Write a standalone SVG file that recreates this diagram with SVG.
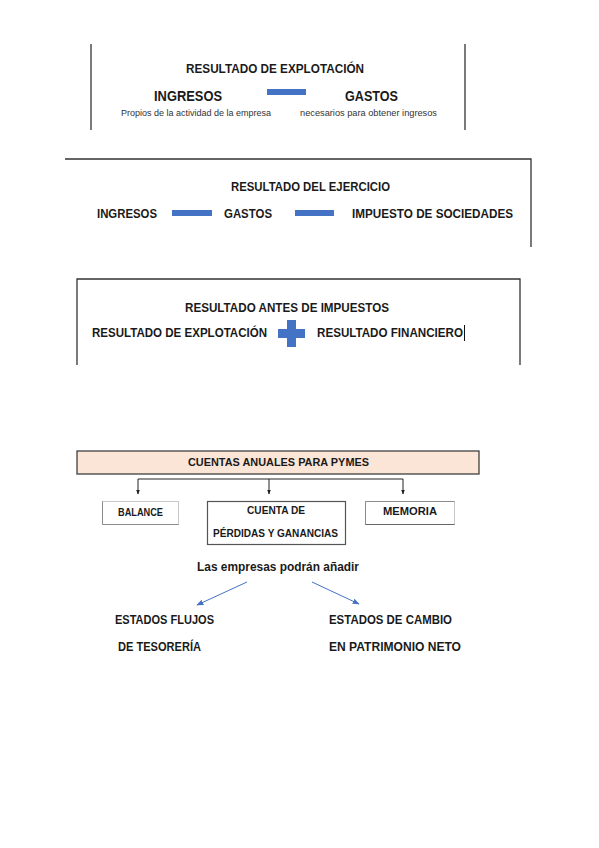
<svg xmlns="http://www.w3.org/2000/svg" width="599" height="848" viewBox="0 0 599 848">
<style>
text{font-family:"Liberation Sans",Arial,sans-serif;fill:#1a1a1a;font-weight:bold}
.t13{font-size:13px}
.t12{font-size:12.5px}
.t11{font-size:11px}
.t16{font-size:15px}
.small{font-size:9px;font-weight:normal;fill:#333}
.frame{stroke:#333;stroke-width:1.3;fill:none}
.bar{fill:#4472C4}
.conn{stroke:#222;stroke-width:1;fill:none}
.blue{stroke:#4472C4;stroke-width:1;fill:none}
</style>
<defs>
<marker id="ah" viewBox="0 0 10 10" refX="9" refY="5" markerWidth="5" markerHeight="5" orient="auto">
<path d="M0,1 L10,5 L0,9 z" fill="#222"/>
</marker>
<marker id="ahb" viewBox="0 0 10 10" refX="9" refY="5" markerWidth="7" markerHeight="7" orient="auto">
<path d="M0,1 L10,5 L0,9 z" fill="#4472C4"/>
</marker>
</defs>
<rect width="599" height="848" fill="#fff"/>

<g id="resultado-explotacion">
<line class="frame" x1="91" y1="44" x2="91" y2="130"/>
<line class="frame" x1="465" y1="44" x2="465" y2="130"/>
<text class="t13" x="186" y="73" textLength="178" lengthAdjust="spacingAndGlyphs">RESULTADO DE EXPLOTACIÓN</text>
<text class="t16" x="154" y="101" textLength="68" lengthAdjust="spacingAndGlyphs">INGRESOS</text>
<rect class="bar" x="267" y="89" width="39" height="6"/>
<text class="t16" x="345" y="101" textLength="53" lengthAdjust="spacingAndGlyphs">GASTOS</text>
<text class="small" x="121" y="116" textLength="150" lengthAdjust="spacingAndGlyphs">Propios de la actividad de la empresa</text>
<text class="small" x="300" y="116" textLength="137" lengthAdjust="spacingAndGlyphs">necesarios para obtener ingresos</text>
</g>

<g id="resultado-ejercicio">
<polyline class="frame" points="65,159 531,159 531,247"/>
<text class="t13" x="231" y="191" textLength="159" lengthAdjust="spacingAndGlyphs">RESULTADO DEL EJERCICIO</text>
<text class="t12" x="97" y="218" textLength="60" lengthAdjust="spacingAndGlyphs">INGRESOS</text>
<rect class="bar" x="172" y="210" width="40" height="6"/>
<text class="t12" x="224" y="218" textLength="48" lengthAdjust="spacingAndGlyphs">GASTOS</text>
<rect class="bar" x="295" y="210" width="39" height="6"/>
<text class="t12" x="352" y="218" textLength="161" lengthAdjust="spacingAndGlyphs">IMPUESTO DE SOCIEDADES</text>
</g>

<g id="resultado-antes-impuestos">
<polyline class="frame" points="77,365 77,279 520,279 520,365"/>
<text class="t13" x="185" y="312" textLength="204" lengthAdjust="spacingAndGlyphs">RESULTADO ANTES DE IMPUESTOS</text>
<text class="t12" x="92" y="337" textLength="175" lengthAdjust="spacingAndGlyphs">RESULTADO DE EXPLOTACIÓN</text>
<path class="bar" d="M287,320 h9 v9 h9 v9 h-9 v9 h-9 v-9 h-9 v-9 h9 z"/>
<text class="t12" x="317" y="337" textLength="146" lengthAdjust="spacingAndGlyphs">RESULTADO FINANCIERO</text>
<line x1="464.5" y1="325" x2="464.5" y2="341" stroke="#111" stroke-width="1"/>
</g>

<g id="cuentas-anuales">
<rect x="77" y="451" width="402" height="23" fill="#FBE5D6" stroke="#404040" stroke-width="1.3"/>
<text class="t11" x="188" y="466" textLength="181" lengthAdjust="spacingAndGlyphs">CUENTAS ANUALES PARA PYMES</text>
</g>

<g id="connectors">
<path class="conn" d="M138,479 H403 V494" marker-end="url(#ah)"/>
<path class="conn" d="M138,479 V494" marker-end="url(#ah)"/>
<path class="conn" d="M269,479 V494" marker-end="url(#ah)"/>
<line class="blue" x1="247" y1="582" x2="197" y2="605" marker-end="url(#ahb)"/>
<line class="blue" x1="312" y1="582" x2="359" y2="604" marker-end="url(#ahb)"/>
</g>

<g id="balance">
<rect x="102.5" y="501.5" width="76" height="23" fill="#fff" stroke="#c8c8c8" stroke-width="1"/>
<polyline points="102.5,501.5 102.5,524.5 178.5,524.5" fill="none" stroke="#8c8c8c" stroke-width="1"/>
<text class="t11" x="118" y="516" textLength="45" lengthAdjust="spacingAndGlyphs">BALANCE</text>
</g>

<g id="cuenta-pyg">
<rect x="207.5" y="501.5" width="138" height="43" fill="#fff" stroke="#555" stroke-width="1.2"/>
<text class="t11" x="247" y="514" textLength="58" lengthAdjust="spacingAndGlyphs">CUENTA DE</text>
<text class="t11" x="213" y="537" textLength="125" lengthAdjust="spacingAndGlyphs">PÉRDIDAS Y GANANCIAS</text>
</g>

<g id="memoria">
<rect x="365.5" y="501.5" width="89" height="23" fill="#fff" stroke="#c8c8c8" stroke-width="1"/>
<polyline points="365.5,524.5 365.5,501.5 454.5,501.5" fill="none" stroke="#8c8c8c" stroke-width="1"/>
<line x1="365.5" y1="524.5" x2="454.5" y2="524.5" stroke="#666" stroke-width="1"/>
<text class="t11" x="383" y="515" textLength="54" lengthAdjust="spacingAndGlyphs">MEMORIA</text>
</g>

<g id="podran-anadir">
<text class="t13" x="197" y="571" textLength="162" lengthAdjust="spacingAndGlyphs">Las empresas podrán añadir</text>
</g>

<g id="estados-flujos">
<text class="t12" x="115" y="624" textLength="99" lengthAdjust="spacingAndGlyphs">ESTADOS FLUJOS</text>
<text class="t12" x="118" y="651" textLength="83" lengthAdjust="spacingAndGlyphs">DE TESORERÍA</text>
</g>

<g id="estados-cambio">
<text class="t12" x="329" y="624" textLength="123" lengthAdjust="spacingAndGlyphs">ESTADOS DE CAMBIO</text>
<text class="t12" x="329" y="651" textLength="132" lengthAdjust="spacingAndGlyphs">EN PATRIMONIO NETO</text>
</g>
</svg>
